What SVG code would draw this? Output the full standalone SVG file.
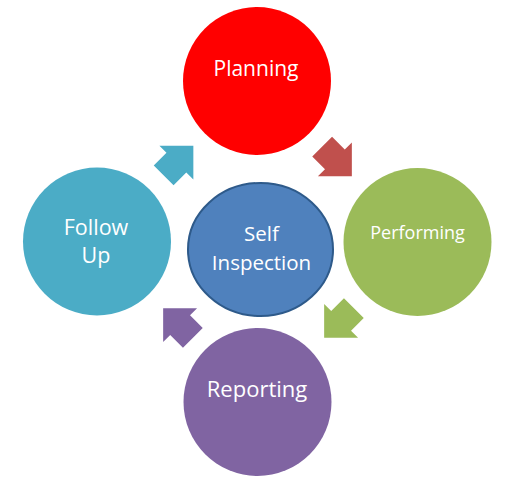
<svg xmlns="http://www.w3.org/2000/svg" width="518" height="491" viewBox="0 0 518 491">
<defs>
<style>
.lbl{font-family:"Open Sans","Liberation Sans",sans-serif;fill:#ffffff;text-anchor:middle}
</style>
<path id="arr" d="M-21,-14 L-3,-14 L-3,-24 L21,0 L-3,24 L-3,14 L-21,14 Z"/>
</defs>
<rect width="518" height="491" fill="#ffffff"/>
<g id="connectors">
<use href="#arr" fill="#C0504D" transform="translate(337,161.5) rotate(45)"/>
<use href="#arr" fill="#9BBB59" transform="translate(339,323) rotate(135)"/>
<use href="#arr" fill="#8064A2" transform="translate(178,323) rotate(-135)"/>
<use href="#arr" fill="#4BACC6" transform="translate(178.5,160.5) rotate(-45)"/>
</g>
<g id="planning">
<circle cx="257" cy="81" r="74" fill="#FF0000"/>
<text class="lbl" x="256" y="76" font-size="21">Planning</text>
</g>
<g id="performing">
<circle cx="417.5" cy="242" r="74" fill="#9BBB59"/>
<text class="lbl" x="417.5" y="239" font-size="18">Performing</text>
</g>
<g id="reporting">
<circle cx="257.5" cy="402" r="74" fill="#8064A2"/>
<text class="lbl" x="257" y="397" font-size="22">Reporting</text>
</g>
<g id="followup">
<circle cx="97" cy="241.5" r="74" fill="#4BACC6"/>
<text class="lbl" x="96" y="235" font-size="21.5">Follow</text>
<text class="lbl" x="96" y="263" font-size="21.5">Up</text>
</g>
<g id="self">
<ellipse cx="260.5" cy="249.5" rx="72.5" ry="66.5" fill="#4F81BD" stroke="#2E5A8A" stroke-width="2"/>
<text class="lbl" x="261.5" y="241" font-size="20.5">Self</text>
<text class="lbl" x="261.5" y="270" font-size="20.5">Inspection</text>
</g>
</svg>
